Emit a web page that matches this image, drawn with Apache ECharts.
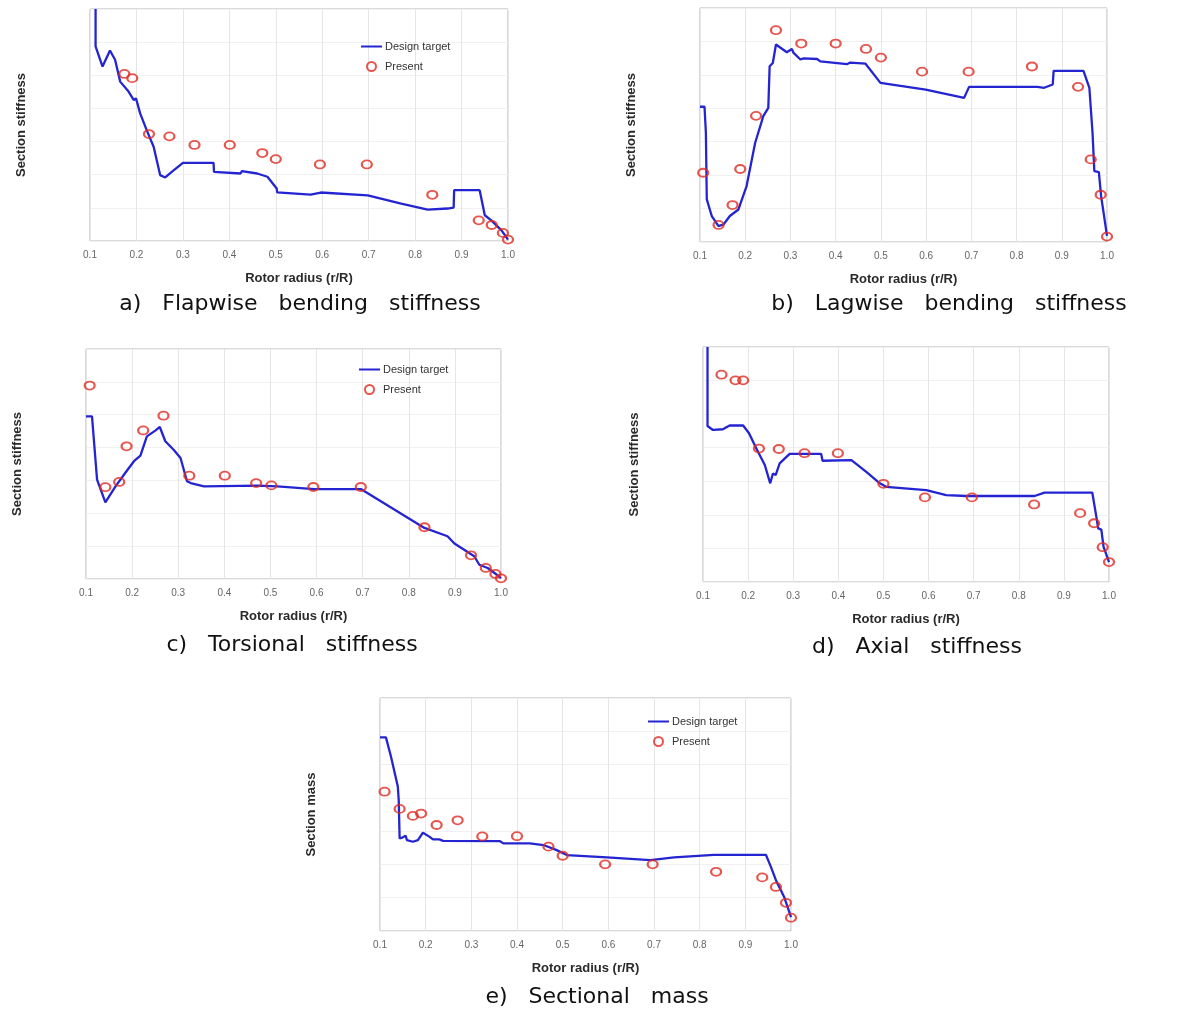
<!DOCTYPE html>
<html>
<head>
<meta charset="utf-8" />
<title>Blade section properties</title>
<script src="https://cdn.jsdelivr.net/npm/echarts@6/dist/echarts.min.js"></script>
<style>
  html, body { margin: 0; padding: 0; background: #fff; }
  #main { width: 1182px; height: 1010px; }
</style>
</head>
<body>
<div id="main"></div>
<script>
// x: rotor radius r/R, y: relative value (no scale on the original axes)
var xTicks = [0.1, 0.2, 0.3, 0.4, 0.5, 0.6, 0.7, 0.8, 0.9, 1.0];

// a) flapwise bending stiffness
var targetA = [[0.112,100],[0.112,83.9],[0.127,75.2],[0.143,82.1],[0.154,78.1],[0.165,68.7],[0.183,64.4],[0.194,60.8],[0.199,61.5],[0.208,55.0],[0.222,47.8],[0.237,40.6],[0.251,28.4],[0.262,27.4],[0.276,29.8],[0.300,33.7],[0.366,33.7],[0.367,29.8],[0.424,29.1],[0.427,30.1],[0.460,29.1],[0.482,27.7],[0.502,22.6],[0.503,21.0],[0.575,20.0],[0.597,20.9],[0.698,19.7],[0.770,16.1],[0.827,13.5],[0.870,14.0],[0.883,14.4],[0.884,21.9],[0.939,21.9],[0.950,11.1],[0.964,8.9],[0.986,4.6],[1.0,0.6]];
var presentA = [[0.174,72.0],[0.191,70.2],[0.227,46.1],[0.271,45.1],[0.325,41.4],[0.401,41.4],[0.471,37.9],[0.500,35.3],[0.595,33.0],[0.696,33.0],[0.837,19.9],[0.937,8.9],[0.965,6.9],[0.989,3.5],[1.0,0.6]];

// b) lagwise bending stiffness
var targetB = [[0.1,57.8],[0.110,57.8],[0.113,46.7],[0.115,18.2],[0.126,11.1],[0.141,6.8],[0.152,7.5],[0.166,11.1],[0.185,13.9],[0.203,23.9],[0.222,42.4],[0.240,53.8],[0.251,57.3],[0.254,75.1],[0.261,76.5],[0.268,84.4],[0.292,81.1],[0.303,82.5],[0.307,80.8],[0.322,78.0],[0.329,78.5],[0.359,78.2],[0.366,77.2],[0.425,76.0],[0.432,76.7],[0.466,76.2],[0.499,68.0],[0.599,65.1],[0.684,61.6],[0.695,66.3],[0.846,66.3],[0.861,65.9],[0.880,67.3],[0.882,73.1],[0.948,73.1],[0.961,65.9],[0.968,46.7],[0.972,30.3],[0.982,29.9],[0.987,19.6],[1.0,2.6]];
var presentB = [[0.107,29.6],[0.141,7.3],[0.172,15.8],[0.189,31.2],[0.224,53.9],[0.268,90.5],[0.324,84.8],[0.400,84.8],[0.467,82.5],[0.500,78.8],[0.591,72.8],[0.694,72.8],[0.834,75.0],[0.936,66.3],[0.964,35.3],[0.986,20.2],[1.0,2.3]];

// c) torsional stiffness
var targetC = [[0.1,70.7],[0.113,70.7],[0.124,43.2],[0.142,33.3],[0.164,40.3],[0.185,46.1],[0.204,51.2],[0.218,53.6],[0.232,62.0],[0.251,64.6],[0.260,66.1],[0.272,59.9],[0.290,56.2],[0.305,52.6],[0.319,42.5],[0.327,41.7],[0.356,40.3],[0.471,40.6],[0.515,40.3],[0.595,39.1],[0.696,39.1],[0.834,22.2],[0.884,18.6],[0.899,15.4],[0.942,9.9],[0.953,6.2],[0.971,4.8],[0.986,2.6],[1.0,0.4]];
var presentC = [[0.108,84.1],[0.142,39.9],[0.172,42.2],[0.188,57.7],[0.224,64.6],[0.268,71.0],[0.324,44.9],[0.401,44.9],[0.469,41.7],[0.502,40.7],[0.593,40.0],[0.696,40.0],[0.834,22.5],[0.935,10.3],[0.967,4.8],[0.988,2.2],[1.0,0.3]];

// d) axial stiffness
var targetD = [[0.110,100],[0.110,66.4],[0.122,64.7],[0.144,65.0],[0.159,66.6],[0.189,66.6],[0.202,63.3],[0.218,56.9],[0.237,49.8],[0.249,42.0],[0.255,46.2],[0.261,45.5],[0.270,50.5],[0.292,54.5],[0.362,54.5],[0.365,51.6],[0.429,51.9],[0.462,46.9],[0.492,42.0],[0.506,40.5],[0.595,39.1],[0.639,37.0],[0.684,36.6],[0.835,36.6],[0.857,38.0],[0.963,38.0],[0.972,27.7],[0.976,22.8],[0.983,22.3],[0.988,14.9],[1.0,8.5]];
var presentD = [[0.141,88.2],[0.172,85.8],[0.189,85.8],[0.224,56.8],[0.268,56.6],[0.325,54.8],[0.399,54.8],[0.500,41.8],[0.592,36.0],[0.696,36.0],[0.834,33.0],[0.936,29.3],[0.967,25.0],[0.986,14.8],[1.0,8.5]];

// e) sectional mass
var targetE = [[0.1,83.1],[0.113,83.1],[0.124,74.9],[0.139,62.0],[0.141,56.2],[0.143,39.7],[0.150,40.2],[0.156,40.9],[0.159,39.0],[0.172,38.3],[0.183,39.0],[0.194,42.2],[0.208,40.5],[0.216,39.3],[0.230,39.3],[0.238,38.7],[0.362,38.6],[0.370,37.6],[0.428,37.6],[0.458,36.9],[0.487,34.7],[0.509,32.6],[0.597,31.6],[0.692,30.4],[0.744,31.6],[0.831,32.7],[0.945,32.7],[0.956,27.5],[0.967,21.8],[0.985,14.6],[1.0,6.0]];
var presentE = [[0.110,59.8],[0.143,52.4],[0.172,49.4],[0.190,50.4],[0.224,45.5],[0.270,47.5],[0.324,40.6],[0.400,40.7],[0.469,36.2],[0.500,32.3],[0.593,28.6],[0.697,28.6],[0.836,25.4],[0.937,23.0],[0.967,18.9],[0.989,12.1],[1.0,5.7]];

var panels = [
  { target: targetA, present: presentA, yName: 'Section stiffness', caption: 'a)   Flapwise   bending   stiffness', box: [90, 9, 418, 232], cap: [300, 304], legend: [360, 41] },
  { target: targetB, present: presentB, yName: 'Section stiffness', caption: 'b)   Lagwise   bending   stiffness', box: [700, 8, 407, 234], cap: [949, 304], legend: null },
  { target: targetC, present: presentC, yName: 'Section stiffness', caption: 'c)   Torsional   stiffness', box: [86, 349, 415, 230], cap: [292, 645], legend: [358, 364] },
  { target: targetD, present: presentD, yName: 'Section stiffness', caption: 'd)   Axial   stiffness', box: [703, 347, 406, 235], cap: [917, 647], legend: null },
  { target: targetE, present: presentE, yName: 'Section mass', caption: 'e)   Sectional   mass', box: [380, 698, 411, 233], cap: [597, 997], legend: [647, 716] }
];

var chart = echarts.init(document.getElementById('main'));
var grid = [], xAxis = [], yAxis = [], series = [], legend = [], graphic = [];

panels.forEach(function (p, i) {
  grid.push({
    left: p.box[0], top: p.box[1], width: p.box[2], height: p.box[3],
    show: true, borderColor: '#b4b4b4', borderWidth: 1, backgroundColor: '#fff'
  });
  xAxis.push({
    type: 'value', gridIndex: i, min: 0.1, max: 1.0, interval: 0.1,
    name: 'Rotor radius (r/R)', nameLocation: 'middle', nameGap: 31,
    nameTextStyle: { fontFamily: 'Liberation Sans, Arial', fontWeight: 'bold', fontSize: 13, color: '#2a2a2a' },
    axisLine: { show: false }, axisTick: { show: false },
    axisLabel: { margin: 9, fontSize: 10, color: '#666', fontFamily: 'Liberation Sans, Arial',
      formatter: function (v) { return v.toFixed(1); } },
    splitLine: { show: true, lineStyle: { color: '#e6e6e6', width: 1 } }
  });
  yAxis.push({
    type: 'value', gridIndex: i, min: 0, max: 100, interval: 100 / 7,
    name: p.yName, nameLocation: 'middle', nameGap: 62, nameRotate: 90,
    nameTextStyle: { fontFamily: 'Liberation Sans Narrow, Liberation Sans, Arial', fontWeight: 'bold', fontSize: 13, color: '#2a2a2a' },
    axisLine: { show: false }, axisTick: { show: false }, axisLabel: { show: false },
    splitLine: { show: true, lineStyle: { color: '#f1f1f1', width: 1 } }
  });
  series.push({
    name: 'Design target', type: 'line', xAxisIndex: i, yAxisIndex: i,
    data: p.target, symbol: 'none', smooth: false,
    lineStyle: { color: '#2424d2', width: 2.3 }, itemStyle: { color: '#2424d2' },
    animation: false, z: 2
  });
  series.push({
    name: 'Present', type: 'scatter', xAxisIndex: i, yAxisIndex: i,
    data: p.present, symbol: 'circle', symbolSize: [10, 8],
    itemStyle: { color: 'rgba(255,255,255,0)', borderColor: '#e02a22', borderWidth: 2 },
    animation: false, z: 3
  });
  if (p.legend) {
    legend.push({
      left: p.legend[0], top: p.legend[1], orient: 'vertical', padding: 0,
      itemWidth: 21, itemHeight: 9, itemGap: 9,
      textStyle: { fontSize: 11, color: '#333', fontFamily: 'Liberation Sans, Arial', padding: [0, 0, 0, -2] },
      data: [
        { name: 'Design target', itemStyle: { opacity: 0 }, lineStyle: { color: '#2424d2', width: 2 } },
        { name: 'Present' }
      ],
      selectedMode: false
    });
  }
  graphic.push({
    type: 'text', x: p.cap[0], y: p.cap[1],
    style: { text: p.caption, fill: '#111', font: '22px "DejaVu Sans", Arial', align: 'center', verticalAlign: 'middle' }
  });
});

chart.setOption({
  backgroundColor: '#fff',
  animation: false,
  grid: grid,
  xAxis: xAxis,
  yAxis: yAxis,
  legend: legend,
  graphic: graphic,
  series: series
});
</script>
</body>
</html>
